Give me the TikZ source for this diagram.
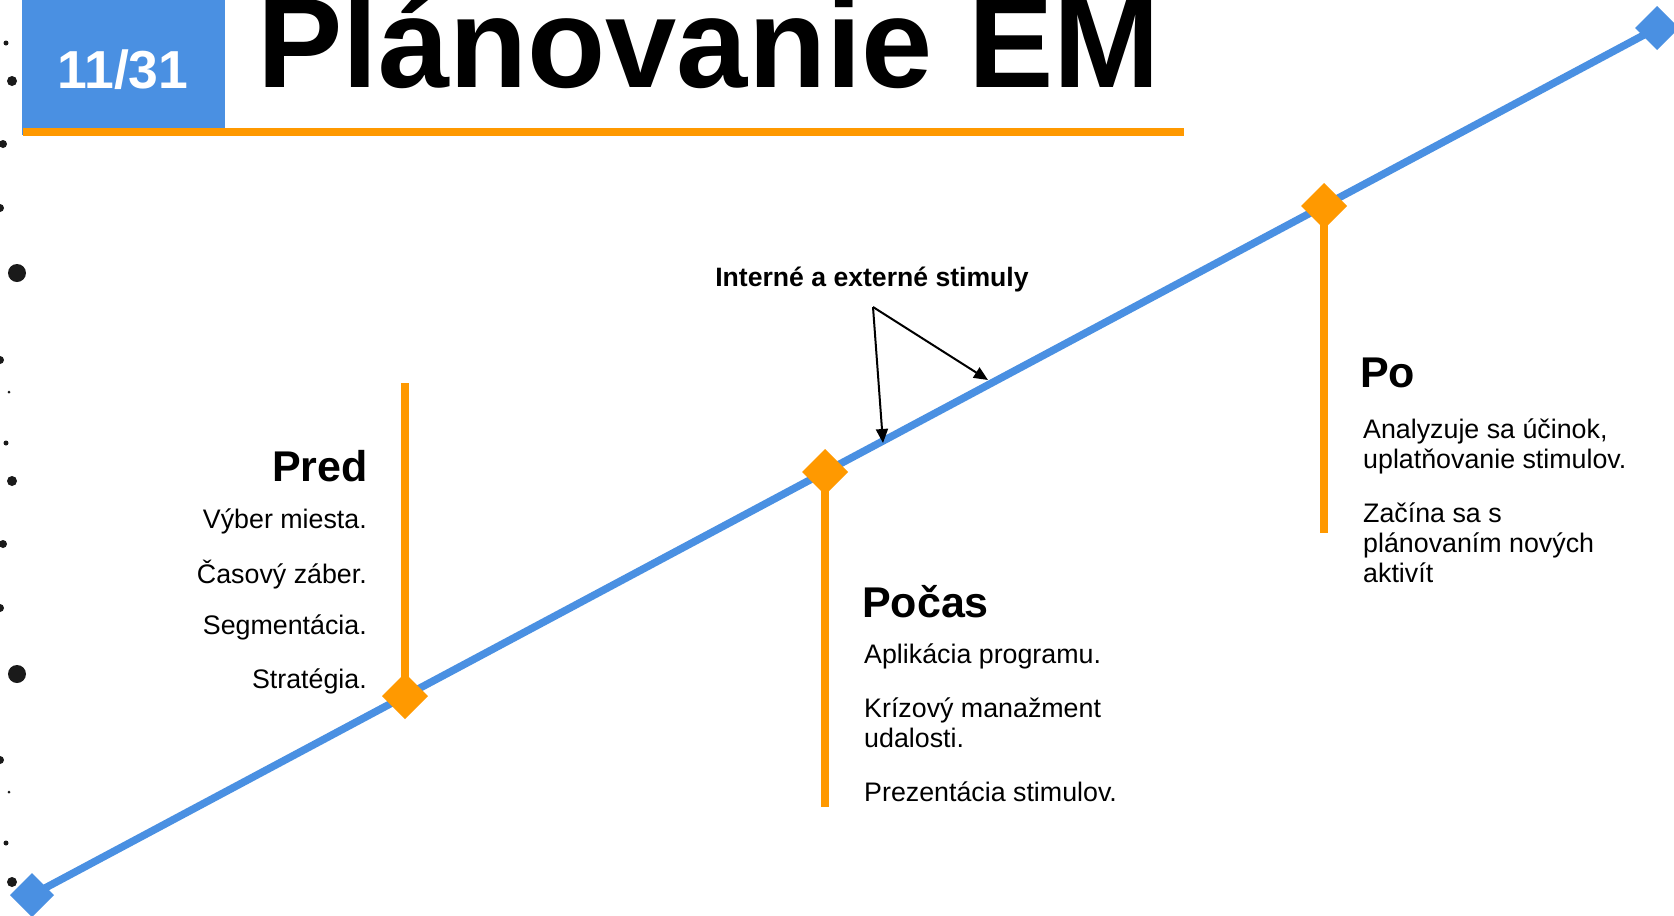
\documentclass[tikz,border=0pt]{standalone}
\usepackage{fontspec}
\setmainfont{Liberation Sans}
\usetikzlibrary{shapes.geometric,arrows.meta}
\definecolor{lineblue}{HTML}{4A90E2}
\definecolor{accent}{HTML}{FF9900}
\definecolor{dotblack}{HTML}{1A1A1A}
\begin{document}
\begin{tikzpicture}[x=1pt,y=-1pt,
  bluediam/.style={diamond,aspect=1,fill=lineblue,minimum width=44pt,minimum height=44pt,inner sep=0pt,outer sep=0pt},
  orangediam/.style={diamond,aspect=1,fill=accent,minimum width=46pt,minimum height=46pt,inner sep=0pt,outer sep=0pt},
  timeline/.style={draw=lineblue,line width=7.5pt},
  stem/.style={draw=accent,line width=8pt},
  pointer/.style={draw=black,line width=2pt,-{Triangle[length=14pt,width=12pt]}},
  heading/.style={font=\fontsize{43}{50}\selectfont\bfseries,inner sep=0pt},
  body/.style={font=\fontsize{26.8}{30}\selectfont,inner sep=0pt},
  dot/.style={fill=dotblack}
]
\useasboundingbox (0,0) rectangle (1674,916);
\fill[white] (0,0) rectangle (1674,916);

% left edge dots
\foreach \x/\y/\r in {6/43/2.5,12/81/5,3/144/4,0/208/4,17/273/9,0/360/4,9/392/1.5,6/443/2.5,
                      12/481/5,3/544/4,0/608/4,17/674/9,0/760/4,9/792/1.5,6/843/2.5,12/882/5}
  \fill[dot] (\x,\y) circle[radius=\r];

% header
\fill[lineblue] (22,0) rectangle (225,135);
\fill[accent] (23,128) rectangle (1184,136);
\node[font=\fontsize{53.5}{60}\selectfont\bfseries,text=white,inner sep=0pt,anchor=base] (pagenum) at (123,88) {11/31};
\node[font=\fontsize{128}{130}\selectfont\bfseries,inner sep=0pt,anchor=base west] (title) at (257,87) {Plánovanie EM};

% timeline
\coordinate (pA) at (32,895);
\coordinate (pB) at (1657,28);
\coordinate (pPred) at (405,696);
\coordinate (pPocas) at (825,472);
\coordinate (pPo) at (1324,206);
\coordinate (predTop) at (405,383);
\coordinate (pocasEnd) at (825,807);
\coordinate (poEnd) at (1324,533);

\draw[timeline] (pA) -- (pB);
\node[bluediam] (dA) at (pA) {};
\node[bluediam] (dB) at (pB) {};

\draw[stem] (predTop) -- (pPred);
\draw[stem] (pPocas) -- (pocasEnd);
\draw[stem] (pPo) -- (poEnd);
\node[orangediam] (dPred) at (pPred) {};
\node[orangediam] (dPocas) at (pPocas) {};
\node[orangediam] (dPo) at (pPo) {};

% stimuli label and arrows
\node[font=\fontsize{26.6}{30}\selectfont\bfseries,inner sep=0pt,anchor=base] (stim) at (872,286) {Interné a externé stimuly};
\coordinate (apex) at (873,307);
\coordinate (tipL) at (883,443);
\coordinate (tipR) at (988,380);
\draw[pointer] (apex) -- (tipL);
\draw[pointer] (apex) -- (tipR);

% Pred
\node[heading,anchor=base east] (predH) at (368,481) {Pred};
\node[body,anchor=base east] (pred1) at (367,528) {Výber miesta.};
\node[body,anchor=base east] (pred2) at (367,583) {Časový záber.};
\node[body,anchor=base east] (pred3) at (367,634) {Segmentácia.};
\node[body,anchor=base east] (pred4) at (367,688) {Stratégia.};

% Pocas
\node[heading,anchor=base west] (pocasH) at (862,617) {Počas};
\node[body,anchor=base west] (pocas1) at (864,663) {Aplikácia programu.};
\node[body,anchor=base west] (pocas2) at (864,717) {Krízový manažment};
\node[body,anchor=base west] (pocas3) at (864,747) {udalosti.};
\node[body,anchor=base west] (pocas4) at (864,801) {Prezentácia stimulov.};

% Po
\node[heading,anchor=base west] (poH) at (1360,387) {Po};
\node[body,anchor=base west] (po1) at (1363,438) {Analyzuje sa účinok,};
\node[body,anchor=base west] (po2) at (1363,468) {uplatňovanie stimulov.};
\node[body,anchor=base west] (po3) at (1363,522) {Začína sa s};
\node[body,anchor=base west] (po4) at (1363,552) {plánovaním nových};
\node[body,anchor=base west] (po5) at (1363,582) {aktivít};
\end{tikzpicture}
\end{document}
